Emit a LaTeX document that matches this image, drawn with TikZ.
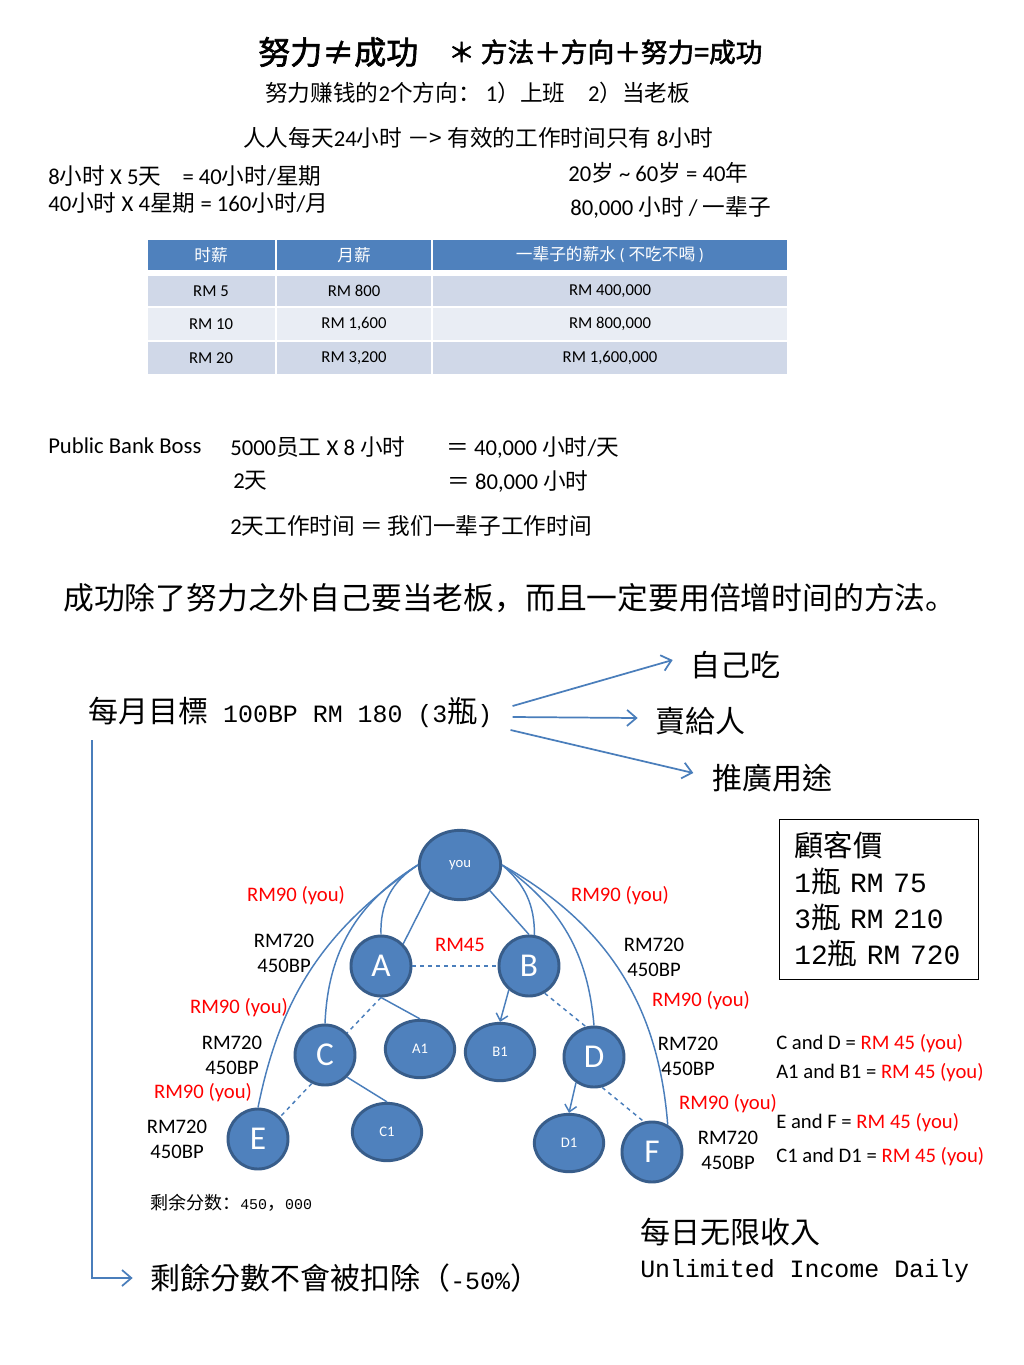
\documentclass[tikz,border=0pt]{standalone}
\usepackage{fontspec}
\setmainfont{Carlito}
\newfontfamily\zhfont{Noto Sans CJK SC}[AutoFakeBold=2]
\newfontfamily\twfont{Noto Sans CJK TC}
\newfontfamily\simfont{Liberation Mono}[Scale=0.83]
\newfontfamily\simwide{Liberation Mono}[Scale=0.95]
\usepackage{tikz}
\usetikzlibrary{arrows.meta,shapes.geometric}
\definecolor{nodefill}{HTML}{4F81BD}
\definecolor{nodeedge}{HTML}{385D8A}
\definecolor{linkblue}{HTML}{4A7EBB}
\definecolor{headblue}{HTML}{4F81BD}
\definecolor{rowdark}{HTML}{D0D8E8}
\definecolor{rowlight}{HTML}{E9EDF4}
\definecolor{earnred}{HTML}{FF0000}
\newcommand{\zh}[1]{{\zhfont #1}}
\newcommand{\simlat}[1]{{\simfont #1}}
\tikzset{
  head/.style={inner sep=0pt, anchor=west, font=\zhfont\bfseries\fontsize{24}{28}\selectfont},
  note/.style={inner sep=0pt, anchor=west, font=\fontsize{17}{20}\selectfont},
  cell/.style={inner sep=0pt, font=\fontsize{12.5}{15}\selectfont},
  big/.style={inner sep=0pt, anchor=west, font=\twfont\fontsize{22.5}{27}\selectfont},
  mem/.style={ellipse, draw=nodeedge, line width=2.2pt, fill=nodefill, text=white, inner sep=0pt},
  root/.style={mem, minimum width=61pt, minimum height=52pt, font=\fontsize{11}{11}\selectfont},
  lead/.style={mem, minimum size=45pt, font=\fontsize{25}{25}\selectfont},
  leaf/.style={mem, minimum width=52pt, minimum height=43pt, font=\fontsize{11}{11}\selectfont},
  pay/.style={inner sep=0pt, align=center, font=\fontsize{15.5}{18.75}\selectfont},
  share/.style={pay, text=earnred},
  tie/.style={draw=linkblue, line width=1.1pt},
  tiedash/.style={tie, dashed},
  tiearr/.style={tie, -{Straight Barb[length=5pt,width=9pt]}},
  goalarr/.style={draw=linkblue, line width=1.3pt, -{Straight Barb[length=7pt,width=12pt]}}
}

\begin{document}
\begin{tikzpicture}[x=0.75pt, y=-0.75pt]
\fill[white] (0,0) rectangle (1024,1365);
\useasboundingbox (0,0) rectangle (1024,1365);

\node[head] (t1) at (258,52) {努力≠成功};
\node[head, font=\zhfont\bfseries\fontsize{20}{24}\selectfont] (t2) at (448,52) {＊ 方法＋方向＋努力=成功};
\node[note] (way) at (265,93) {\zh{努力赚钱的}2\zh{个方向：} 1\zh{）上班}\quad 2\zh{）当老板}};
\node[note] (day) at (243,138) {\zh{人人每天}24\zh{小时 －> 有效的工作时间只有} 8\zh{小时}};
\node[note] (wk) at (48,176) {8\zh{小时} X 5\zh{天}\hspace{16pt}= 40\zh{小时}/\zh{星期}};
\node[note] (mo) at (48,203) {40\zh{小时} X 4\zh{星期} = 160\zh{小时}/\zh{月}};
\node[note] (age) at (568,173) {20\zh{岁} \textasciitilde{} 60\zh{岁} = 40\zh{年}};
\node[note] (life) at (570,207) {80,000 \zh{小时} / \zh{一辈子}};

\fill[headblue] (148,240) rectangle (787,270);
\fill[rowdark] (148,276) rectangle (787,306);
\fill[rowlight] (148,308) rectangle (787,340);
\fill[rowdark] (148,342) rectangle (787,374);
\draw[white, line width=1.5pt] (276,240) -- (276,374) (432,240) -- (432,374);
\node[cell, text=white] (h1) at (211,255) {\zh{时薪}};
\node[cell, text=white] (h2) at (354,255) {\zh{月薪}};
\node[cell, text=white] (h3) at (610,255) {\zh{一辈子的薪水} ( \zh{不吃不喝} )};
\node[cell] (a1) at (211,291) {RM 5};
\node[cell] (a2) at (354,291) {RM 800};
\node[cell] (a3) at (610,291) {RM 400,000};
\node[cell] (b1) at (211,324) {RM 10};
\node[cell] (b2) at (354,324) {RM 1,600};
\node[cell] (b3) at (610,324) {RM 800,000};
\node[cell] (c1) at (211,358) {RM 20};
\node[cell] (c2) at (354,358) {RM 3,200};
\node[cell] (c3) at (610,358) {RM 1,600,000};

\node[note] (pbb) at (48,446) {Public Bank Boss};
\node[note] (pb1) at (230,447) {5000\zh{员工} X 8 \zh{小时}};
\node[note] (pb2) at (446,447) {\zh{＝} 40,000 \zh{小时}/\zh{天}};
\node[note] (pb3) at (233,481) {2\zh{天}};
\node[note] (pb4) at (447,481) {\zh{＝} 80,000 \zh{小时}};
\node[note] (pb5) at (230,526) {2\zh{天工作时间 ＝ 我们一辈子工作时间}};

\node[big, font=\zhfont\fontsize{23.1}{27}\selectfont] (boss) at (63,598) {成功除了努力之外自己要当老板，而且一定要用倍增时间的方法。};

\node[big] (goal) at (88,712) {每月目標\simlat{ 100BP RM 180 (3}瓶\simlat{)}};
\node[big] (eat) at (690,665) {自己吃};
\node[big] (sell) at (655,721) {賣給人};
\node[big] (promo) at (712,778) {推廣用途};
\draw[goalarr] ([xshift=15pt,yshift=4.5pt]goal.east) -- ([xshift=-13pt,yshift=3.75pt]eat.west);
\draw[goalarr] ([xshift=15pt,yshift=-3.75pt]goal.east) -- ([xshift=-13pt,yshift=2.25pt]sell.west);
\draw[goalarr] ([xshift=13.5pt,yshift=-13.5pt]goal.east) -- ([xshift=-14pt,yshift=3.75pt]promo.west);
\node[big] (keep) at (150,1278) {剩餘分數不會被扣除（\simlat{-50\%}）};
\draw[goalarr] ([xshift=3pt,yshift=-21pt]goal.west) |- ([xshift=-13pt]keep.west);

\node[draw, line width=1pt, anchor=north west, minimum width=149pt, minimum height=120pt,
      inner xsep=11pt, text width=127pt, align=left, font=\twfont\fontsize{22}{27}\selectfont]
  (price) at (779,819) {顧客價\\{\simwide 1}瓶{\simwide ~RM 75}\\{\simwide 3}瓶{\simwide ~RM 210}\\{\simwide 12}瓶{\simwide ~RM 720}};

\node[root] (you) at (460,865) {you};
\node[lead] (A) at (381,966) {A};
\node[lead] (B) at (529,966) {B};
\node[lead] (C) at (325,1055) {C};
\node[leaf] (A1) at (420,1049) {A1};
\node[leaf] (B1) at (500,1052) {B1};
\node[lead] (D) at (594,1057) {D};
\node[lead] (E) at (258,1139) {E};
\node[leaf] (C1) at (387,1132) {C1};
\node[leaf] (D1) at (569,1143) {D1};
\node[lead] (F) at (652,1152) {F};

\draw[tie] (you.west) to[bend right=30] (A.north);
\draw[tie] (you.west) to[bend right=28] (C.north);
\draw[tie] (you.west) to[bend right=22] (E.north);
\draw[tie] (you.south west) -- (A.north east);
\draw[tie] (you.south east) -- (B.north);
\draw[tie] (you.east) to[bend left=25] (B.80);
\draw[tie] (you.east) to[bend left=25] (D.north);
\draw[tie] (you.east) to[bend left=28] (F.60);
\draw[tiedash] (A) -- (B);
\draw[tiedash] (A.south) -- (C.north east);
\draw[tie] (A.south) -- (A1.north);
\draw[tiearr] (B.230) -- (B1.north);
\draw[tiedash] (B.300) -- (D.105);
\draw[tiedash] (C.245) -- (E.north east);
\draw[tie] (C.south east) -- (C1.north);
\draw[tiearr] (D.235) -- (D1.north);
\draw[tiedash] (D.285) -- (F.105);

\node[share] (s1) at (296,896) {RM90 (you)};
\node[share] (s2) at (620,896) {RM90 (you)};
\node[share] (s3) at (460,945) {RM45};
\node[share] (s4) at (239,1008) {RM90 (you)};
\node[share] (s5) at (701,1001) {RM90 (you)};
\node[share] (s6) at (203,1093) {RM90 (you)};
\node[share] (s7) at (728,1104) {RM90 (you)};
\node[pay] (p1) at (284,953) {RM720\\450BP};
\node[pay] (p2) at (654,957) {RM720\\450BP};
\node[pay] (p3) at (232,1055) {RM720\\450BP};
\node[pay] (p4) at (688,1056) {RM720\\450BP};
\node[pay] (p5) at (177,1139) {RM720\\450BP};
\node[pay] (p6) at (728,1150) {RM720\\450BP};

\node[note, font=\fontsize{15.5}{18}\selectfont] (n1) at (776,1044) {C and D = \textcolor{earnred}{RM 45 (you)}};
\node[note, font=\fontsize{15.5}{18}\selectfont] (n2) at (776,1073) {A1 and B1 = \textcolor{earnred}{RM 45 (you)}};
\node[note, font=\fontsize{15.5}{18}\selectfont] (n3) at (776,1123) {E and F = \textcolor{earnred}{RM 45 (you)}};
\node[note, font=\fontsize{15.5}{18}\selectfont] (n4) at (776,1157) {C1 and D1 = \textcolor{earnred}{RM 45 (you)}};

\node[note, font=\zhfont\fontsize{13.5}{16}\selectfont] (rest) at (150,1203) {剩余分数：\simlat{450}，\simlat{000}};
\node[big] (daily) at (640,1232) {每日无限收入};
\node[big] (income) at (640,1271) {\simlat{Unlimited Income Daily}};
\end{tikzpicture}
\end{document}
